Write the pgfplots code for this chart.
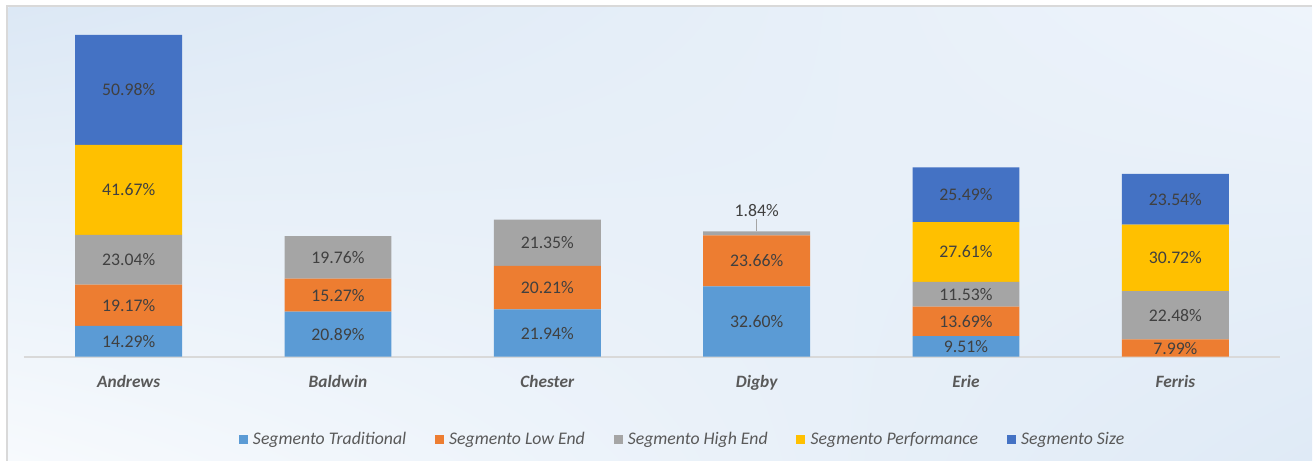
\documentclass[border=0pt]{standalone}
\usepackage{fontspec}
\setmainfont{Carlito}
\usepackage{pgfplots}
\usepackage{pgfplotstable}
\usetikzlibrary{shadings}
\pgfplotsset{compat=1.18}
\definecolor{cTrad}{HTML}{5B9BD5}
\definecolor{cLow}{HTML}{ED7D31}
\definecolor{cHigh}{HTML}{A5A5A5}
\definecolor{cPerf}{HTML}{FFC000}
\definecolor{cSize}{HTML}{4472C4}
\definecolor{lbl}{HTML}{404040}
\definecolor{cat}{HTML}{595959}
\definecolor{frame}{HTML}{D9D9D9}
\definecolor{bgA}{HTML}{DCE8F5}
\definecolor{bgB}{HTML}{EEF4FB}
\definecolor{bgC}{HTML}{F7FAFD}
\definecolor{bgD}{HTML}{DFEAF6}

\pgfplotstableread{
x trad low high perf size
0 14.29 19.17 23.04 41.67 50.98
1 20.89 15.27 19.76 0 0
2 21.94 20.21 21.35 0 0
3 32.60 23.66 1.84 0 0
4 9.51 13.69 11.53 27.61 25.49
5 0 7.99 22.48 30.72 23.54
}\datatable

\pgfplotsset{
  seg/.style 2 args={
    fill=#2, draw=none,
    point meta={\thisrow{#1}},
    visualization depends on={\thisrow{#1} \as \val},
    nodes near coords={\pgfmathfloatifflags{\pgfplotspointmeta}{0}{}{\pgfmathprintnumber[fixed,fixed zerofill,precision=2,assume math mode=true]{\pgfplotspointmeta}\%}},
    every node near coord/.append style={anchor=center,
      font=\fontsize{13.3}{16}\selectfont, text=lbl,
      yshift={ifthenelse(\val<3,17,0)*1pt}},
  },
}

\begin{document}
\begin{tikzpicture}
\fill[white] (0,0) rectangle (984.75pt,345.75pt);
\shade[upper left=bgA, upper right=bgB, lower left=bgC, lower right=bgD]
  (6.375pt,0) rectangle (984.75pt,340.125pt);
\draw[line width=1.5pt, frame] (5.625pt,0) -- (5.625pt,340.875pt) -- (984.75pt,340.875pt);
\begin{axis}[
  at={(18pt,78pt)}, anchor=south west,
  x=157.125pt, y=1.6192pt,
  xmin=-0.5, xmax=5.5, ymin=0, ymax=156.1,
  enlargelimits=false,
  ybar stacked, bar width=80.25pt,
  axis x line*=bottom, axis y line=none,
  x axis line style={draw=frame, line width=1.5pt},
  xtick={0,1,2,3,4,5},
  xticklabels={Andrews,Baldwin,Chester,Digby,Erie,Ferris},
  xticklabel style={font=\fontsize{13}{15}\selectfont\bfseries\itshape, text=cat, yshift=-10.5pt},
  major tick length=0pt, ytick=\empty,
  clip=false,
  legend columns=5,
  legend style={at={(0.5245,-0.246)}, anchor=center, draw=none, fill=none,
    font=\fontsize{13.3}{16}\selectfont\itshape, text=cat,
    /tikz/every even column/.append style={column sep=19.5pt},
    /tikz/every odd column/.append style={column sep=2pt}},
  legend image code/.code={\fill[#1,draw=none] (0pt,-3.375pt) rectangle (6.75pt,3.375pt);},
]
\addplot[seg={trad}{cTrad}] table[x=x,y=trad]{\datatable};
\addplot[seg={low}{cLow}] table[x=x,y=low]{\datatable};
\addplot[seg={high}{cHigh}] table[x=x,y=high]{\datatable};
\addplot[seg={perf}{cPerf}] table[x=x,y=perf]{\datatable};
\addplot[seg={size}{cSize}] table[x=x,y=size]{\datatable};
\legend{Segmento Traditional,Segmento Low End,Segmento High End,Segmento Performance,Segmento Size}
\draw[cHigh, line width=0.75pt] (axis cs:3,58.1) -- ++(0pt,9pt);
\end{axis}
\end{tikzpicture}
\end{document}
